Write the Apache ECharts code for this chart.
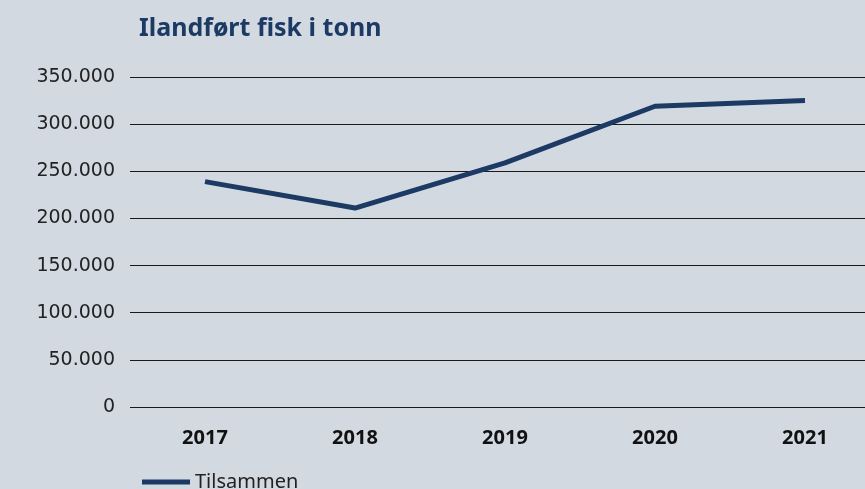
<!DOCTYPE html>
<html>
<head>
<meta charset="utf-8">
<script src="https://cdn.jsdelivr.net/npm/echarts@6/dist/echarts.min.js"></script>
<style>
  html, body { margin: 0; padding: 0; background: #d3d9e1; overflow: hidden; }
  #chart { width: 880px; height: 489px; }
</style>
</head>
<body>
<div id="chart"></div>
<script>
  // Ilandført fisk i tonn
  var years = ['2017', '2018', '2019', '2020', '2021'];
  var tilsammen = [239000, 211000, 259000, 319000, 325000];

  var chart = echarts.init(document.getElementById('chart'));

  function fmt(v) {
    return String(v).replace(/\B(?=(\d{3})+(?!\d))/g, '.');
  }

  chart.setOption({
    backgroundColor: '#d3d9e1',
    animation: false,
    textStyle: { fontFamily: 'Noto Sans' },
    title: {
      text: 'Ilandført fisk i tonn',
      left: 134,
      top: 11,
      textStyle: { color: '#1c3a64', fontSize: 25, fontWeight: 'bold', fontFamily: 'Noto Sans' }
    },
    legend: {
      data: ['Tilsammen'],
      left: 137,
      top: 467,
      icon: 'rect',
      itemWidth: 48,
      itemHeight: 5,
      itemGap: 10,
      textStyle: { color: '#222', fontSize: 20, fontFamily: 'Noto Sans' }
    },
    grid: {
      left: 130,
      right: 0,
      top: 77,
      bottom: 82
    },
    xAxis: {
      type: 'category',
      data: years,
      boundaryGap: true,
      axisLine: { show: false },
      axisTick: { show: false },
      axisLabel: {
        margin: 21,
        color: '#111',
        fontSize: 20,
        fontWeight: 'bold',
        fontFamily: 'Noto Sans'
      }
    },
    yAxis: {
      type: 'value',
      min: 0,
      max: 350000,
      interval: 50000,
      axisLine: { show: false },
      axisTick: { show: false },
      axisLabel: {
        margin: 15,
        color: '#222',
        fontSize: 19,
        fontFamily: 'DejaVu Sans',
        formatter: fmt
      },
      splitLine: { lineStyle: { color: '#1a1a1a', width: 1 } }
    },
    series: [{
      name: 'Tilsammen',
      type: 'line',
      data: tilsammen,
      symbol: 'none',
      lineStyle: { color: '#1c3a64', width: 5 },
      itemStyle: { color: '#1c3a64' }
    }]
  });
</script>
</body>
</html>
